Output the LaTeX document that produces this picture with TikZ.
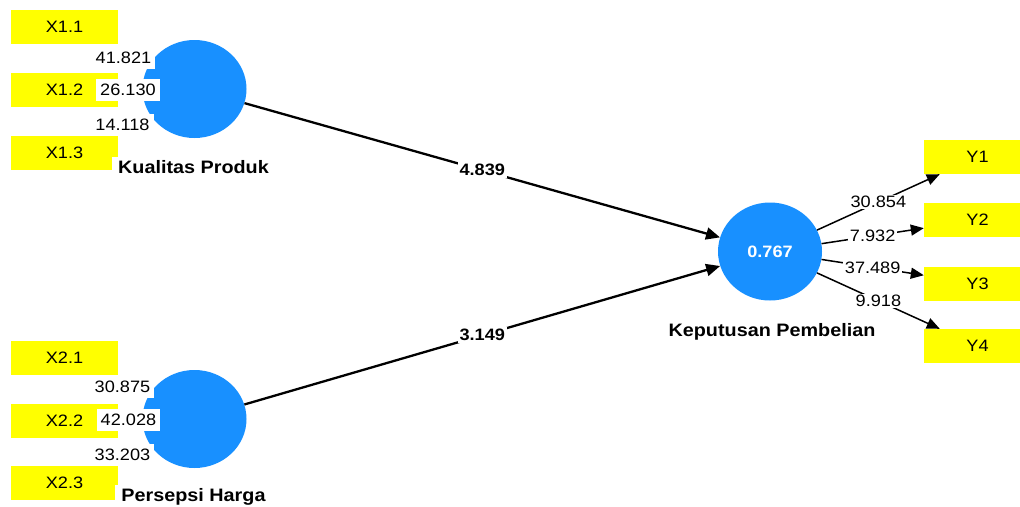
\documentclass[tikz,border=0pt]{standalone}
\usepackage{fontspec}
\setmainfont{Liberation Sans}[FakeStretch=1.1]
\usetikzlibrary{arrows.meta,shapes.geometric}
\definecolor{indyellow}{RGB}{255,255,0}
\definecolor{lvblue}{RGB}{24,144,255}
\newcommand\regfont{\fontsize{16.5}{19}\selectfont}
\newcommand\lblfont{\fontsize{16.5}{19}\selectfont\bfseries}
\newcommand\namefont{\fontsize{18}{21}\selectfont\bfseries}
\begin{document}
\begin{tikzpicture}[x=1pt,y=-1pt,
  indbox/.style={fill=indyellow, draw=none, minimum width=107pt, minimum height=34pt, inner sep=0pt, font=\regfont},
  lvnode/.style={ellipse, fill=lvblue, draw=none, minimum width=104pt, minimum height=98pt, inner sep=0pt},
  lvname/.style={fill=white, font=\namefont, inner xsep=6pt, inner ysep=3pt, anchor=base},
  loadlbl/.style={fill=white, font=\regfont, inner xsep=4pt, inner ysep=5pt},
  outlbl/.style={fill=white, font=\regfont, inner sep=1.5pt},
  pathlbl/.style={fill=white, font=\lblfont, inner sep=2pt},
  arrowline/.style={draw=black, line width=2.3pt, -{Triangle[length=14pt,width=12pt]}},
  outline/.style={draw=black, line width=1.5pt, -{Triangle[length=13pt,width=11pt]}}
]
\clip (0,0) rectangle (1020,506);
\fill[white] (0,0) rectangle (1020,506);

% indicator boxes
\node[indbox] (x11) at (64.5,27) {X1.1};
\node[indbox] (x12) at (64.5,90) {X1.2};
\node[indbox] (x13) at (64.5,153) {X1.3};
\node[indbox] (x21) at (64.5,357.5) {X2.1};
\node[indbox] (x22) at (64.5,420.5) {X2.2};
\node[indbox] (x23) at (64.5,483) {X2.3};
\node[indbox] (y1) at (977.5,157) {Y1};
\node[indbox] (y2) at (977.5,220) {Y2};
\node[indbox] (y3) at (977.5,283.5) {Y3};
\node[indbox] (y4) at (977.5,346) {Y4};

% latent variables
\node[lvnode] (kp) at (194.5,89) {};
\node[lvnode] (ph) at (194.5,419) {};
\node[lvnode, font=\lblfont, text=white] (kep) at (770,251.5) {0.767};

% structural paths
\draw[arrowline] (kp) -- node[pathlbl]{4.839} (kep);
\draw[arrowline] (ph) -- node[pathlbl]{3.149} (kep);

% outer loadings (reflective, to Y)
\draw[outline] (kep) -- node[outlbl]{30.854} (y1);
\draw[outline] (kep) -- node[outlbl]{7.932} (y2);
\draw[outline] (kep) -- node[outlbl]{37.489} (y3);
\draw[outline] (kep) -- node[outlbl]{9.918} (y4);

% outer loadings (X)
\node[loadlbl] (l11) at (123.5,58) {41.821};
\node[loadlbl] (l12) at (128,90) {26.130};
\node[loadlbl] (l13) at (122.5,125) {14.118};
\node[loadlbl] (l21) at (122.5,387) {30.875};
\node[loadlbl] (l22) at (128.5,420) {42.028};
\node[loadlbl] (l23) at (122.5,455) {33.203};

% construct names
\node[lvname] (nkp) at (193.5,173) {Kualitas Produk};
\node[lvname] (nph) at (193.5,501) {Persepsi Harga};
\node[lvname] (nkep) at (772,336) {Keputusan Pembelian};
\end{tikzpicture}
\end{document}
